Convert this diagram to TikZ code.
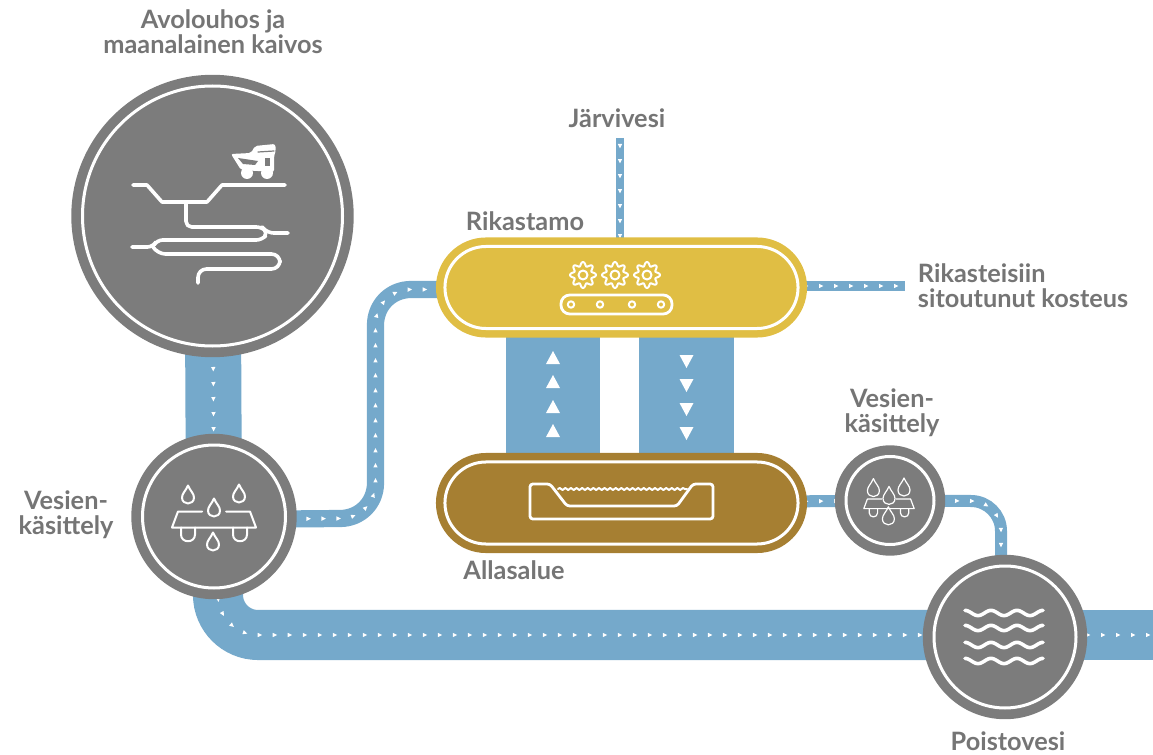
\documentclass[tikz,border=0pt]{standalone}
\usepackage{fontspec}
\setmainfont{Lato}
\usetikzlibrary{backgrounds,decorations.markings,decorations.pathmorphing}
\definecolor{hubgray}{HTML}{7C7C7C}
\definecolor{labelgray}{HTML}{757575}
\definecolor{pipeblue}{HTML}{75A9CB}
\definecolor{plantyellow}{HTML}{E0BE44}
\definecolor{pondbrown}{HTML}{A67F32}
\newcommand{\pxu}{0.025cm}
\tikzset{
	hub/.style={circle, inner sep=0pt, outer sep=0pt, draw=white, line width=0.075cm,
		fill=hubgray, preaction={draw=hubgray, line width=0.56cm}},
	pill/.style={rectangle, rounded corners=1.025cm, inner sep=0pt, outer sep=0pt,
		minimum width=8.825cm, minimum height=2.05cm, draw=white, line width=0.075cm,
		fill=#1, preaction={draw=#1, line width=0.45cm}},
	lbl/.style={text=labelgray, font=\fontsize{18}{17.8}\selectfont\bfseries, align=center},
	flowmarks/.style={decoration={markings, mark=between positions 0.2cm and -0.05cm step 0.375cm with
		{\fill[white] (-0.05cm,-0.055cm) -- (0.06cm,0cm) -- (-0.05cm,0.055cm) -- cycle;}},
		postaction={decorate}},
	pipe/.style={draw=pipeblue, line width=#1, flowmarks},
	icon/.style={draw=white, line width=0.09cm, line cap=round, line join=round},
	fineicon/.style={draw=white, line width=0.05cm, line cap=round, line join=round},
	droppic/.pic={
		\draw (0,-12) .. controls (-2,-7) and (-6,-4) .. (-6,0) .. controls (-6,4) and (-3,6) .. (0,6)
			.. controls (3,6) and (6,4) .. (6,0) .. controls (6,-4) and (2,-7) .. (0,-12) -- cycle;},
	treatpic/.pic={
		\draw (-12,-5) -- (-36,-5) -- (-42,11) -- (42,11) -- (36,-5) -- (12,-5);
		\pic at (0,-6) {droppic};
		\pic at (-26,-19) {droppic};
		\pic at (25,-20) {droppic};
		\pic at (-1,28) {droppic};
		\draw (-33,11) -- (-33,18) .. controls (-33,27) and (-19,27) .. (-19,18) -- (-19,11);
		\draw (19,11) -- (19,18) .. controls (19,27) and (33,27) .. (33,18) -- (33,11);},
	gearpic/.pic={
		\draw plot[domain=0:360, samples=145, smooth] (\x:{11+2*cos(8*\x)}) -- cycle;
		\draw (0,0) circle (4.5);}
}
\begin{document}
\begin{tikzpicture}[x=0.025cm, y=-0.025cm]
    \useasboundingbox (0,0) rectangle (1153,755);
    % circles and pills
    \node[hub, minimum size=260*\pxu] (mine) at (212.5,216) {};
    \node[hub, minimum size=143*\pxu] (wleft) at (214,516.5) {};
    \node[hub, minimum size=88*\pxu, preaction={draw=hubgray, line width=0.44cm}] (wright) at (890,500.5) {};
    \node[hub, minimum size=142*\pxu] (outlet) at (1005,637) {};
    \node[pill=plantyellow] (plant) at (621.5,287.5) {};
    \node[pill=pondbrown] (pond) at (621.5,503) {};
    % free ends and bends
    \coordinate (lakeend) at (620,138);
    \coordinate (moistend) at (905,286);
    \coordinate (seaend) at (1153,635);
    \coordinate (risepipe) at (553,400);
    \coordinate (fallpipe) at (686.5,400);
    % labels
    \node[lbl] (minelbl) at (213,32) {Avolouhos ja\\maanalainen kaivos};
    \node[lbl] (lakelbl) at (617,118) {Järvivesi};
    \node[lbl] (plantlbl) at (525,221) {Rikastamo};
    \node[lbl, anchor=west, align=left] (moistlbl) at (913,286) {Rikasteisiin\\sitoutunut kosteus};
    \node[lbl] (wleftlbl) at (66,515) {Vesien-\\käsittely};
    \node[lbl] (wrightlbl) at (892,413) {Vesien-\\käsittely};
    \node[lbl] (pondlbl) at (514,570) {Allasalue};
    \node[lbl] (outletlbl) at (1008,741) {Poistovesi};
    % pipes
    \begin{scope}[on background layer]
    \draw[pipe=1.4cm] (mine) -- (wleft);
    \draw[pipe=0.43cm] (wleft.-2) -- (340,518.5) .. controls (360,518.5) and (375.5,503) .. (375.5,483)
        -- (375.5,325) .. controls (375.5,305) and (391,289.5) .. (411,289.5) -- (plant.west |- 0,289.5);
    \draw[pipe=0.2cm] (lakeend) -- (plant.north -| lakeend);
    \draw[pipe=0.25cm] (plant.east |- moistend) -- (moistend);
    \draw[pipe=0.3cm] (pond) -- (wright);
    \draw[pipe=0.3cm] (wright) -- (971,501) .. controls (987.5,501) and (1001,514.5) .. (1001,531) -- (1001,560);
    \draw[pipe=1.25cm] (wleft -| 218,0) -- (218,595) .. controls (218,617) and (236,635) .. (258,635)
        -- (outlet.center |- seaend);
    \draw[pipe=1.25cm] (outlet.center |- seaend) -- (seaend);
    \draw[draw=pipeblue, line width=2.35cm] (plant -| risepipe) -- (pond -| risepipe);
    \draw[draw=pipeblue, line width=2.35cm] (plant -| fallpipe) -- (pond -| fallpipe);
    \end{scope}
    % triangles on the two wide pipes
    \foreach \y in {358,382,407,431}
        \fill[white] (553,\y-7) -- (560,\y+6) -- (546,\y+6) -- cycle;
    \foreach \y in {361,385,409,433}
        \fill[white] (686.5,\y+7) -- (693.5,\y-6) -- (679.5,\y-6) -- cycle;
    % mine icon
    \begin{scope}[icon]
    \draw (133,185) -- (147,185) -- (162,202) -- (207,202) -- (222,185) -- (285,185);
    \draw[rounded corners=4] (186,203) -- (186,227) -- (262,227) -- (268,233) -- (288,233);
    \draw[rounded corners=4] (262,227) -- (268,233) -- (262,240) -- (157,240) -- (153,247) -- (132,247);
    \draw[rounded corners=6] (153,247) -- (157,254) -- (280,254) -- (280,269) -- (198,269) -- (198,283);
    % truck
    \fill[white, rounded corners=1.5] (231,154) -- (251,153) -- (255,146) -- (275,144) -- (276,150) -- (274,156) -- (274,172) -- (241,170) -- cycle;
    \fill[hubgray] (238,158) -- (258,161) -- (255,165) -- (243,164) -- cycle;
    \fill[hubgray] (265,158) rectangle (270,166);
    \draw[hubgray, line width=0.03cm] (258,152) -- (274,151);
    \fill[white] (247,173) circle (6) (267,173) circle (6);
    \end{scope}
    % plant icon
    \begin{scope}[fineicon]
    \pic at (583,275) {gearpic};
    \pic at (615,275) {gearpic};
    \pic at (647,275) {gearpic};
    \draw[rounded corners=0.22cm, line width=0.07cm] (561,295) rectangle (672,314);
    \foreach \x in {571,600,632,661}
        \draw (\x,304.5) circle (3.2);
    \end{scope}
    % pond icon
    \begin{scope}[icon, line width=0.07cm]
    \draw[rounded corners=2] (530,484) -- (550,484) -- (567,506) -- (677,506) -- (693,484) -- (713,484)
        -- (713,519) -- (530,519) -- cycle;
    \draw[line width=0.05cm, decorate, decoration={snake, segment length=0.14cm, amplitude=0.025cm}] (558,489) -- (687,489);
    \end{scope}
    % treatment icons
    \pic[fineicon] at (214,516.5) {treatpic};
    \pic[fineicon, scale=0.6, line width=0.03cm] at (889,502) {treatpic};
    % waves
    \begin{scope}[icon]
    \foreach \wavey in {613,628,645,661}
        \draw plot[domain=0:78, samples=70, smooth] ({965+\x},{\wavey-2.6*cos(\x*13.846)});
    \end{scope}
\end{tikzpicture}
\end{document}
